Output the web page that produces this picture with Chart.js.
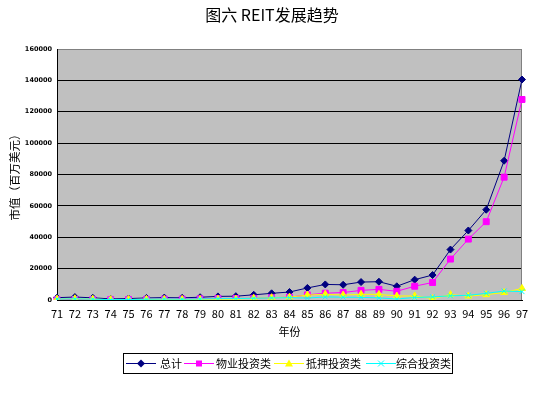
<!DOCTYPE html>
<html>
<head>
<meta charset="utf-8">
<script src="https://cdn.jsdelivr.net/npm/chart.js@4.4.1/dist/chart.umd.min.js"></script>
<style>
  body { margin: 0; background: #fff; }
  #wrap { position: relative; width: 544px; height: 394px; }
  #title { position: absolute; left: 0; top: 2px; width: 544px; text-align: center;
           font: 16px "Noto Sans CJK SC"; color: #000; }
  #legend { position: absolute; left: 123px; top: 353px; width: 328px; height: 19px;
            border: 1px solid #000; font: 11px "Noto Sans CJK SC"; color: #000; }
  .sw { position: absolute; top: 0; }
  .lb { position: absolute; top: 2px; line-height: 15px; }
</style>
</head>
<body>
<div id="wrap">
  <canvas id="reit-chart" width="544" height="394"></canvas>
  <div id="title">图六 REIT发展趋势</div>
  <div id="legend">
    <svg class="sw" style="left:2px" width="30" height="19"><line x1="0" y1="9.5" x2="30" y2="9.5" stroke="#000080"/><polygon points="15,5.5 19,9.5 15,13.5 11,9.5" fill="#000080"/></svg>
    <span class="lb" style="left:36px">总计</span>
    <svg class="sw" style="left:60px" width="30" height="19"><line x1="0" y1="9.5" x2="30" y2="9.5" stroke="#ff00ff"/><rect x="12" y="6.5" width="6" height="6" fill="#ff00ff"/></svg>
    <span class="lb" style="left:92px">物业投资类</span>
    <svg class="sw" style="left:150px" width="30" height="19"><line x1="0" y1="9.5" x2="30" y2="9.5" stroke="#ffff00"/><polygon points="15,5.5 19,12.5 11,12.5" fill="#ffff00"/></svg>
    <span class="lb" style="left:182px">抵押投资类</span>
    <svg class="sw" style="left:242px" width="30" height="19"><line x1="0" y1="9.5" x2="30" y2="9.5" stroke="#00ffff"/><path d="M12,6.5 L18,12.5 M18,6.5 L12,12.5" stroke="#00ffff"/></svg>
    <span class="lb" style="left:272px">综合投资类</span>
  </div>
</div>
<script>
const years = ["71", "72", "73", "74", "75", "76", "77", "78", "79", "80", "81", "82", "83", "84",
  "85", "86", "87", "88", "89", "90", "91", "92", "93", "94", "95", "96", "97"];

// 市值（百万美元）
const total = [1494, 1881, 1394, 712, 900, 1308, 1528, 1412, 1754, 2299, 2439, 3299, 4257, 5085,
  7674, 9924, 9702, 11435, 11662, 8737, 12968, 15912, 32159, 44306, 57541, 88776, 140534];
const equity = [332, 377, 336, 242, 276, 410, 538, 576, 744, 942, 978, 1071, 1469, 1795,
  3270, 4336, 4759, 6142, 6770, 5552, 8786, 11171, 26082, 38812, 49913, 78302, 127825];
const mortgage = [571, 775, 517, 239, 312, 416, 398, 340, 377, 510, 541, 1133, 1460, 1801,
  3162, 3626, 3161, 3621, 3536, 2549, 2586, 900, 3399, 2503, 3395, 4779, 7370];
const hybrid = [591, 729, 541, 231, 312, 482, 592, 496, 633, 847, 920, 1095, 1328, 1489,
  1242, 1962, 1782, 1672, 1356, 636, 1596, 1968, 2678, 2991, 4233, 5696, 5339];

const yTicksMax = 160000;
const yStep = 20000;

const cjk = '"Noto Sans CJK SC"';

// grey plot area like the old Excel charts
const plotBack = {
  id: 'plotBack',
  beforeDraw(chart) {
    const { ctx, chartArea: a } = chart;
    ctx.save();
    ctx.fillStyle = '#c0c0c0';
    ctx.fillRect(a.left, a.top, a.right - a.left, a.bottom - a.top);
    ctx.restore();
  },
  beforeDatasetsDraw(chart) {
    const { ctx, chartArea: a } = chart;
    ctx.save();
    ctx.strokeStyle = '#808080';
    ctx.lineWidth = 1;
    ctx.beginPath();
    ctx.moveTo(a.right - 0.5, a.top);
    ctx.lineTo(a.right - 0.5, a.bottom);
    ctx.stroke();
    ctx.restore();
  }
};

function series(label, data, color, style, radius, order) {
  return {
    label: label,
    data: data,
    borderColor: color,
    backgroundColor: color,
    borderWidth: 1,
    pointStyle: style,
    pointRadius: radius,
    pointBorderWidth: 1,
    pointHoverRadius: radius,
    tension: 0,
    order: order
  };
}

new Chart(document.getElementById('reit-chart'), {
  type: 'line',
  data: {
    labels: years,
    datasets: [
      series('总计', total, '#000080', 'rectRot', 3.5, 4),
      series('物业投资类', equity, '#ff00ff', 'rect', 4.2, 3),
      series('抵押投资类', mortgage, '#ffff00', 'triangle', 4, 2),
      series('综合投资类', hybrid, '#00ffff', 'crossRot', 3.5, 1)
    ]
  },
  options: {
    responsive: false,
    animation: false,
    layout: { padding: { top: 49, right: 22, bottom: 49, left: 0 } },
    plugins: {
      legend: { display: false },
      title: { display: false },
      tooltip: { enabled: false }
    },
    scales: {
      x: {
        offset: false,
        grid: { display: false, drawTicks: false },
        border: { color: '#000', width: 1 },
        ticks: { color: '#000', font: { family: cjk, size: 11 }, padding: 7, autoSkip: false, maxRotation: 0 },
        title: { display: true, text: '年份', color: '#000', font: { family: cjk, size: 11 }, padding: { top: 0, bottom: 7 } },
        afterFit: (s) => { s.height = 45; }
      },
      y: {
        min: 0,
        max: yTicksMax,
        grid: {
          drawTicks: false,
          color: (c) => (c.tick && c.tick.value === yTicksMax ? '#808080' : '#000'),
          lineWidth: 1
        },
        border: { color: '#000', width: 1 },
        ticks: {
          stepSize: yStep, color: '#000', padding: 5,
          font: { family: 'Verdana, "DejaVu Sans"', size: 6.5, weight: 'bold' },
          callback: (v) => String(v)
        },
        title: { display: true, text: '市值（百万美元）', color: '#000', font: { family: cjk, size: 11.5 }, padding: { top: 8, bottom: 0 } },
        afterFit: (s) => { s.width = 57; }
      }
    }
  },
  plugins: [plotBack]
});
</script>
</body>
</html>
